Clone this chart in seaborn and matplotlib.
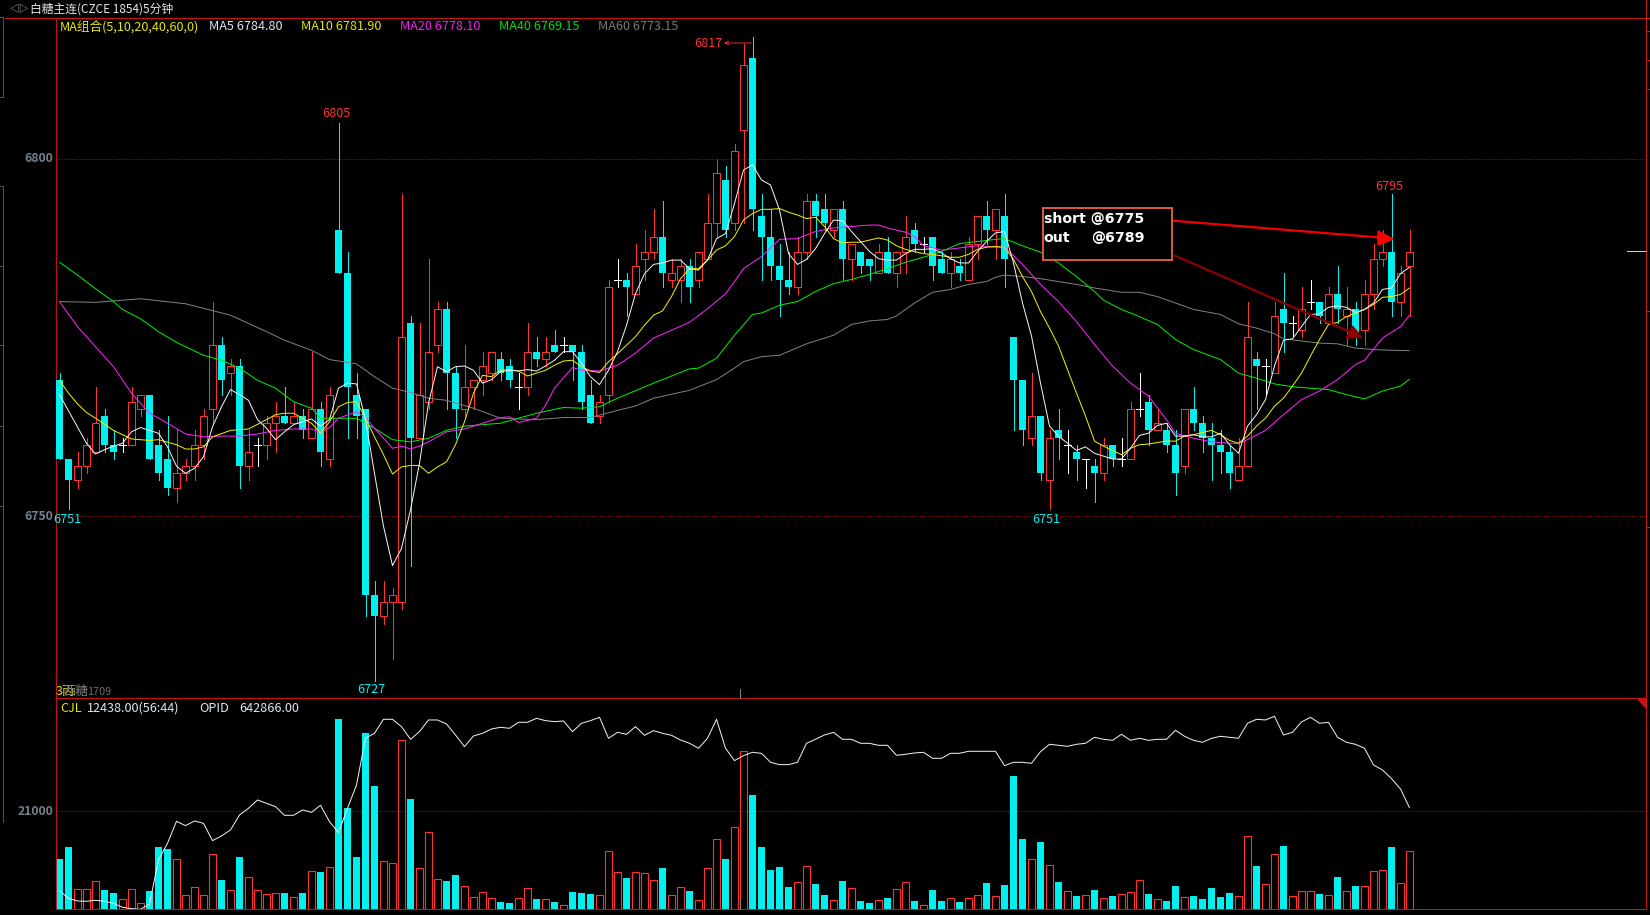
import matplotlib
matplotlib.use('Agg')
import matplotlib.pyplot as plt
from matplotlib.lines import Line2D
from matplotlib.patches import Polygon, Rectangle
import numpy as np
import pandas as pd
import seaborn as sns

# candles
opens = [6769, 6758, 6755, 6757, 6759, 6764, 6760, 6760, 6760, 6765, 6767, 6760, 6758, 6754, 6756, 6757,
         6760, 6765, 6774, 6770, 6771, 6757, 6760, 6760, 6763, 6764, 6763, 6764, 6761, 6765, 6758, 6790,
         6784, 6767, 6765, 6739, 6736, 6738, 6738, 6777, 6761, 6766, 6774, 6779, 6770, 6765, 6768, 6769,
         6770, 6772, 6771, 6768, 6768, 6773, 6772, 6774, 6774, 6774, 6773, 6767, 6764, 6767, 6783, 6783,
         6781, 6786, 6787, 6789, 6783, 6783, 6785, 6783, 6786, 6791, 6797, 6791, 6804, 6814, 6792, 6789,
         6785, 6783, 6782, 6787, 6794, 6793, 6790, 6793, 6786, 6787, 6786, 6784, 6787, 6784, 6787, 6790,
         6788, 6789, 6786, 6784, 6785, 6783, 6788, 6792, 6790, 6792, 6775, 6769, 6761, 6764, 6755, 6762,
         6760, 6759, 6758, 6757, 6756, 6760, 6758, 6758, 6765, 6766, 6762, 6762, 6760, 6757, 6765, 6763,
         6761, 6760, 6759, 6755, 6757, 6772, 6771, 6770, 6779, 6777, 6776, 6780, 6780, 6777, 6781, 6778,
         6779, 6776, 6781, 6786, 6787, 6780, 6785]
closes = [6758, 6755, 6757, 6760, 6763, 6760, 6759, 6760, 6766, 6767, 6758, 6756, 6754, 6756, 6757, 6760,
          6764, 6774, 6769, 6771, 6757, 6759, 6760, 6763, 6764, 6763, 6764, 6762, 6765, 6759, 6767, 6784,
          6768, 6764, 6739, 6736, 6738, 6739, 6775, 6761, 6767, 6773, 6779, 6770, 6765, 6768, 6769, 6771,
          6773, 6770, 6769, 6768, 6773, 6772, 6773, 6773, 6774, 6773, 6766, 6763, 6766, 6782, 6783, 6782,
          6785, 6787, 6789, 6784, 6784, 6785, 6782, 6787, 6791, 6798, 6790, 6801, 6813, 6793, 6789, 6785,
          6783, 6782, 6787, 6794, 6792, 6791, 6793, 6786, 6788, 6785, 6785, 6787, 6784, 6787, 6789, 6788,
          6788, 6785, 6784, 6786, 6784, 6788, 6792, 6790, 6793, 6786, 6769, 6762, 6764, 6756, 6761, 6761,
          6760, 6758, 6758, 6756, 6760, 6758, 6758, 6765, 6765, 6762, 6763, 6760, 6756, 6765, 6763, 6761,
          6760, 6759, 6756, 6757, 6775, 6771, 6771, 6778, 6777, 6777, 6779, 6780, 6778, 6781, 6779, 6779,
          6775, 6781, 6786, 6787, 6780, 6784, 6787]
highs = [6770, 6758, 6759, 6761, 6768, 6765, 6762, 6761, 6768, 6767, 6767, 6762, 6764, 6762, 6758, 6762,
         6765, 6780, 6775, 6772, 6772, 6762, 6761, 6764, 6766, 6768, 6766, 6765, 6773, 6766, 6768, 6805,
         6787, 6770, 6765, 6741, 6741, 6740, 6795, 6778, 6777, 6786, 6780, 6780, 6771, 6774, 6769, 6773,
         6773, 6773, 6772, 6770, 6777, 6775, 6775, 6776, 6775, 6774, 6774, 6769, 6767, 6783, 6786, 6784,
         6788, 6790, 6793, 6794, 6786, 6786, 6786, 6787, 6795, 6800, 6799, 6802, 6816, 6817, 6795, 6793,
         6788, 6787, 6789, 6795, 6795, 6795, 6793, 6794, 6788, 6787, 6786, 6788, 6789, 6787, 6792, 6791,
         6789, 6789, 6787, 6787, 6786, 6789, 6792, 6794, 6793, 6795, 6775, 6769, 6770, 6764, 6762, 6765,
         6762, 6760, 6758, 6758, 6761, 6760, 6761, 6766, 6770, 6767, 6765, 6763, 6762, 6765, 6768, 6764,
         6763, 6762, 6760, 6761, 6780, 6773, 6772, 6780, 6784, 6778, 6782, 6783, 6780, 6782, 6785, 6782,
         6780, 6783, 6788, 6790, 6795, 6785, 6790]
lows = [6758, 6751, 6754, 6756, 6759, 6759, 6758, 6759, 6760, 6764, 6758, 6755, 6753, 6752, 6755, 6755,
        6758, 6763, 6767, 6767, 6754, 6755, 6757, 6758, 6759, 6763, 6763, 6761, 6761, 6757, 6757, 6784,
        6761, 6761, 6736, 6727, 6735, 6730, 6737, 6743, 6761, 6765, 6773, 6765, 6761, 6764, 6765, 6767,
        6769, 6769, 6768, 6765, 6767, 6771, 6771, 6773, 6773, 6769, 6765, 6763, 6763, 6766, 6782, 6778,
        6781, 6783, 6786, 6782, 6782, 6780, 6780, 6782, 6786, 6789, 6789, 6790, 6791, 6790, 6783, 6783,
        6778, 6781, 6781, 6786, 6789, 6790, 6789, 6783, 6783, 6784, 6783, 6784, 6784, 6782, 6784, 6787,
        6787, 6783, 6784, 6782, 6783, 6783, 6786, 6788, 6786, 6782, 6762, 6760, 6760, 6755, 6751, 6758,
        6756, 6755, 6754, 6752, 6755, 6757, 6757, 6758, 6764, 6760, 6762, 6759, 6753, 6756, 6762, 6759,
        6755, 6756, 6754, 6755, 6757, 6765, 6767, 6770, 6773, 6775, 6775, 6779, 6777, 6777, 6777, 6774,
        6774, 6774, 6779, 6785, 6778, 6778, 6778]

volumes = [10786, 13357, 4286, 4286, 6072, 4143, 3500, 2143, 4286, 1286, 3929, 13357, 12929, 10714, 3000, 4714,
           3000, 11786, 6286, 4071, 11214, 6857, 4071, 3214, 3429, 3500, 2571, 3500, 8143, 8000, 9000, 40786,
           21714, 11214, 37786, 26429, 10286, 9857, 36214, 23643, 8786, 16500, 6429, 6072, 7357, 4929, 2571, 3643,
           2357, 1571, 1357, 2357, 4500, 2214, 2143, 1571, 857, 3714, 3500, 3286, 3000, 12429, 7929, 6714,
           7929, 7714, 6214, 8857, 3000, 4714, 3929, 1929, 8786, 15000, 10786, 17571, 33857, 24500, 13357, 8429,
           9071, 4786, 5786, 9214, 5429, 3071, 1929, 6072, 4500, 1786, 1357, 1929, 2429, 4286, 5786, 1786,
           857, 4143, 1786, 2357, 1571, 2357, 3000, 5643, 2786, 5214, 28571, 15071, 10714, 14429, 9429, 5857,
           3857, 2857, 3000, 4143, 2357, 2857, 3214, 3643, 6214, 3286, 2143, 1786, 5000, 2571, 2857, 2214,
           4571, 2643, 3500, 2786, 15643, 9286, 5357, 11786, 13571, 2786, 3857, 3857, 3286, 3000, 6929, 3857,
           5000, 4929, 8143, 8357, 13357, 5571, 12438]
open_interest = [618000, 615700, 614900, 614800, 615100, 614800, 614200, 613000, 612600, 612400, 614000, 627200,
                 632200, 638800, 637500, 638900, 638200, 633000, 634400, 636200, 640700, 642700, 645200, 644200,
                 643200, 640600, 640600, 642200, 641500, 643600, 638700, 635400, 642700, 649700, 663700, 665200,
                 669400, 669400, 667200, 663400, 665700, 669200, 669200, 668000, 664700, 661200, 664400, 665200,
                 666500, 667000, 666700, 668500, 668500, 669700, 669000, 668700, 668900, 665700, 668200, 669000,
                 670000, 663700, 665500, 664900, 667200, 664600, 666000, 665200, 664600, 663200, 662200, 660700,
                 663700, 669400, 660700, 657000, 658500, 659500, 659200, 656500, 655800, 655800, 656500, 662200,
                 663400, 664700, 665500, 663400, 663400, 662200, 662200, 661600, 661600, 658600, 658900, 659300,
                 659500, 657700, 657700, 659200, 659200, 659800, 659800, 659800, 659800, 655500, 656500, 656500,
                 656200, 659700, 661900, 661600, 661300, 661900, 662200, 664000, 663400, 663100, 664900, 663100,
                 663700, 663100, 663400, 663400, 666100, 664300, 663100, 662500, 663700, 664300, 664000, 663700,
                 668200, 669400, 669200, 670300, 664700, 665500, 668600, 670000, 668200, 668500, 664000, 662500,
                 661900, 660700, 655700, 654200, 651600, 648500, 642866]

# moving averages, bar index and value at the vertices
ma5_idx = [0, 3, 4, 5, 6, 7, 8, 9, 10, 11, 12, 13, 14, 15, 16, 17, 18, 19, 20, 21, 22, 23, 24, 25, 26, 27, 28, 29, 30,
           31, 32, 33, 34, 35, 36, 37, 38, 39, 40, 41, 42, 43, 44, 45, 46, 47, 48, 49, 50, 51, 52, 53, 54, 55, 56,
           57, 58, 59, 60, 61, 62, 63, 64, 65, 66, 67, 68, 69, 70, 71, 72, 73, 74, 75, 76, 77, 78, 79, 80, 81, 82,
           83, 84, 85, 86, 87, 88, 89, 90, 91, 92, 93, 94, 95, 96, 97, 98, 99, 100, 101, 102, 103, 104, 105, 106,
           107, 108, 109, 110, 111, 112, 113, 114, 115, 116, 117, 118, 119, 120, 121, 122, 123, 124, 125, 126, 127,
           128, 129, 130, 131, 132, 133, 134, 135, 136, 137, 138, 139, 140, 141, 142, 143, 144, 145, 146, 147, 148,
           149, 150]
ma5 = [6767, 6760.2, 6758.7, 6759.3, 6759.8, 6760.2, 6761.8, 6762.4, 6762, 6761.6, 6759.7, 6757, 6756, 6756.7, 6758.3,
       6762.5, 6765.3, 6767.7, 6767, 6766.2, 6763.5, 6762.3, 6760.7, 6761.8, 6762.8, 6763.2, 6763.6, 6762.6, 6763.5,
       6767.9, 6768.6, 6768.5, 6763.5, 6756, 6748.6, 6743.1, 6745.5, 6750.9, 6757.4, 6765.8, 6770.9, 6770.2, 6770.9,
       6771, 6770.4, 6768.6, 6769.1, 6770.2, 6770.4, 6770.3, 6770.5, 6770.3, 6771, 6771.8, 6773, 6773, 6771.4, 6769.5,
       6768.4, 6770.4, 6773, 6776.7, 6781.1, 6783.9, 6785.2, 6785.4, 6785.8, 6785.8, 6784.6, 6784.4, 6785.8, 6788.8,
       6789.5, 6793.7, 6798.4, 6799.1, 6797, 6796.3, 6792.8, 6786.7, 6785.2, 6785.9, 6787.4, 6789.5, 6791.4, 6791.3,
       6789.8, 6788.4, 6787, 6786, 6785.8, 6785.8, 6786.7, 6787.3, 6787.3, 6787.4, 6786.8, 6786, 6785.4, 6785.4, 6787,
       6788.4, 6789.6, 6789.8, 6785.4, 6779.8, 6775.2, 6768.6, 6762.6, 6761.2, 6760.2, 6759.2, 6759.7, 6758.8, 6758.4,
       6758, 6758, 6759.5, 6761.3, 6761.6, 6762.7, 6763, 6761.2, 6761.2, 6761.4, 6761.1, 6761.1, 6761.6, 6760, 6758.8,
       6762.6, 6764.2, 6766.3, 6771, 6774.6, 6774.8, 6776.5, 6778.2, 6778.3, 6779.2, 6779.4, 6779.2, 6778.5, 6778.9,
       6779.8, 6781.7, 6781.9, 6783.9, 6784.8]

ma10_idx = [0, 1, 2, 3, 4, 6, 8, 10, 11, 13, 14, 15, 16, 17, 19, 21, 23, 24, 25, 26, 28, 29, 30, 31, 32, 33, 34, 35, 36,
            37, 38, 39, 40, 41, 42, 43, 44, 45, 46, 47, 48, 49, 50, 51, 52, 53, 54, 55, 56, 57, 58, 59, 60, 61, 62, 63,
            64, 65, 66, 67, 68, 69, 70, 71, 72, 73, 74, 75, 76, 77, 78, 79, 80, 81, 82, 83, 84, 85, 86, 87, 88, 89, 90,
            91, 92, 93, 94, 95, 96, 97, 98, 99, 100, 101, 102, 103, 104, 105, 106, 107, 108, 109, 110, 111, 112, 113,
            114, 115, 116, 117, 118, 119, 120, 121, 122, 123, 124, 125, 126, 127, 128, 129, 130, 131, 132, 133, 134,
            135, 136, 137, 138, 139, 140, 141, 142, 143, 144, 145, 146, 147, 148, 149, 150]
ma10 = [6769, 6767.2, 6765.7, 6764.5, 6763.7, 6762, 6760.8, 6760.6, 6760.7, 6760, 6759.4, 6759.4, 6759.7, 6761.1, 6762,
        6762.2, 6763.5, 6764.2, 6764.4, 6764.4, 6763, 6761.6, 6763.2, 6765.3, 6765.9, 6766, 6763.7, 6761.1, 6758.6,
        6755.9, 6756.9, 6757.1, 6757.1, 6756, 6756.9, 6757.6, 6760, 6763.2, 6767.2, 6769.7, 6769.5, 6770.4, 6770.5,
        6770.3, 6769.6, 6770, 6770.4, 6771.1, 6771.7, 6771.8, 6770.9, 6770.3, 6770.1, 6771.6, 6772.7, 6773.9, 6775.1,
        6776.7, 6778.1, 6778.7, 6780.7, 6783.2, 6784.6, 6784.6, 6785.8, 6787.2, 6787.8, 6789.1, 6791.4, 6792.3, 6792.9,
        6792.9, 6793, 6792.5, 6792.1, 6791.6, 6791.8, 6790.5, 6788.8, 6788.2, 6788.3, 6788.3, 6788.6, 6788.9, 6788.6,
        6787.8, 6787.3, 6787, 6786.7, 6786.6, 6786.4, 6786.2, 6786.2, 6786.6, 6787.3, 6787.6, 6787.7, 6787.6, 6785.9,
        6783.5, 6781.4, 6778.6, 6776.3, 6773.8, 6770.5, 6767.2, 6764, 6760.5, 6759.8, 6759.2, 6758.6, 6759.5, 6760,
        6760.1, 6760.3, 6760.5, 6760.5, 6761.2, 6761.4, 6761.7, 6762, 6761.4, 6760.6, 6760.2, 6761.2, 6762.6, 6763.7,
        6765.4, 6766.5, 6768.2, 6770, 6772.4, 6774.7, 6776.8, 6777.1, 6777.9, 6778.4, 6778.9, 6779.6, 6780.6, 6780.7,
        6781, 6781.9]

ma20_idx = [0, 2, 4, 6, 8, 10, 12, 14, 16, 18, 20, 22, 24, 26, 28, 29, 30, 31, 33, 34, 35, 37, 38, 39, 40, 41, 43, 45,
            47, 49, 50, 51, 53, 54, 55, 57, 58, 60, 62, 64, 66, 68, 70, 72, 74, 75, 76, 78, 80, 82, 84, 86, 88, 90, 91,
            92, 94, 95, 96, 98, 100, 102, 104, 105, 107, 109, 111, 113, 115, 117, 119, 121, 123, 124, 126, 128, 130,
            131, 132, 134, 136, 138, 140, 142, 144, 145, 147, 149, 150]
ma20 = [6780, 6776.5, 6773.7, 6770.9, 6767.2, 6764.4, 6763, 6761.5, 6761.1, 6761.2, 6761.2, 6761.5, 6762, 6762.2, 6762.2,
        6761.7, 6762.4, 6763.7, 6764.6, 6763.8, 6762.3, 6759.5, 6759.8, 6759.4, 6759.8, 6760.4, 6761.8, 6762.2, 6763,
        6763.8, 6763.9, 6763.1, 6763.7, 6765.5, 6767.9, 6770.8, 6770.4, 6770.3, 6771.1, 6772.8, 6774.9, 6776, 6777.1,
        6779, 6781.1, 6782.8, 6784.6, 6786.3, 6788.7, 6788.8, 6789.8, 6790.3, 6790.5, 6790.7, 6790.7, 6790.3, 6789.7,
        6789.1, 6787.8, 6787.2, 6787.5, 6787.8, 6787.6, 6787.6, 6785.2, 6782.4, 6780, 6777.2, 6774, 6771, 6768.6,
        6766.8, 6763.5, 6761.6, 6760.9, 6760.4, 6760.2, 6760.2, 6760.7, 6762, 6764.2, 6766.3, 6767.5, 6769.1, 6771.2,
        6771.8, 6774.9, 6776.5, 6778.1]

ma40_idx = [0, 2, 4, 6, 7, 9, 11, 13, 16, 18, 20, 22, 24, 26, 28, 29, 31, 33, 35, 37, 39, 41, 43, 45, 49, 53, 56, 58,
            60, 62, 66, 70, 71, 73, 75, 77, 78, 80, 82, 84, 86, 88, 90, 92, 94, 96, 98, 100, 102, 104, 105, 107, 109,
            111, 113, 115, 116, 118, 120, 122, 124, 126, 129, 131, 133, 135, 137, 139, 141, 143, 145, 147, 149, 150]
ma40 = [6785.5, 6783.7, 6781.8, 6780, 6778.9, 6777.6, 6775.8, 6774.3, 6772.5, 6771.8, 6770.7, 6769, 6767.9, 6766, 6765.1,
        6763.7, 6763.7, 6763.7, 6762.3, 6760.7, 6760.4, 6760.9, 6762, 6762.6, 6763, 6764.4, 6765.2, 6765.1, 6765.3,
        6766.5, 6768.6, 6770.6, 6770.7, 6772.1, 6775.3, 6778.2, 6778.4, 6779.5, 6780, 6781.4, 6782.5, 6783.1, 6783.8,
        6784.6, 6785.5, 6786.2, 6787, 6788.1, 6788.4, 6788.7, 6788.8, 6787.8, 6786.9, 6785.4, 6783.5, 6781.4, 6780.2,
        6778.9, 6777.9, 6776.8, 6774.7, 6773.3, 6771.9, 6770, 6769.3, 6768.5, 6768.1, 6767.9, 6767.7, 6767, 6766.4,
        6767.5, 6768.2, 6769.15]

ma60_idx = [0, 4, 9, 14, 19, 23, 25, 28, 30, 33, 35, 37, 39, 41, 43, 46, 49, 53, 56, 59, 62, 64, 66, 70, 73, 75, 76, 78,
            80, 83, 86, 88, 90, 92, 93, 95, 97, 99, 101, 103, 104, 105, 107, 109, 111, 113, 115, 118, 120, 122, 124,
            126, 129, 131, 133, 135, 136, 138, 140, 142, 144, 146, 148, 150]
ma60 = [6780, 6779.9, 6780.4, 6779.7, 6778.1, 6775.8, 6774.6, 6773.2, 6771.9, 6771.3, 6769.5, 6767.9, 6767.3, 6766.5,
        6766.2, 6765.1, 6763.7, 6763.5, 6763.8, 6763.8, 6764.8, 6765.4, 6766.5, 6767.6, 6769.1, 6770.7, 6771.6, 6772.3,
        6772.5, 6774.1, 6775.3, 6776.8, 6777.3, 6777.5, 6778, 6779.8, 6781.3, 6781.7, 6782.4, 6782.8, 6783.4, 6783.7,
        6783.5, 6783.2, 6782.8, 6782.4, 6781.9, 6781.3, 6781.3, 6780.7, 6779.8, 6778.9, 6778.2, 6776.9, 6776.3, 6775.5,
        6774.8, 6774.5, 6774.2, 6774.1, 6773.5, 6773.3, 6773.2, 6773.15]

W, H = 1650, 915
RED = '#ff3232'
CYAN = '#00f0f0'
FRAME = '#c41414'
GRID = '#a01010'
GRAY_TXT = '#74818c'
THIN = 0.68

sns.set_style('dark', {'axes.facecolor': 'black', 'figure.facecolor': 'black', 'axes.edgecolor': FRAME,
                       'axes.grid': False})
plt.rcParams['font.family'] = ['Noto Sans CJK SC', 'DejaVu Sans']

fig = plt.figure(figsize=(W / 100, H / 100), dpi=100, facecolor='black')
ax = fig.add_axes([55.5 / W, 1 - 698.3 / H, (1646 - 55.5) / W, 680 / H])
ax_vol = fig.add_axes([55.5 / W, 1 - 909.3 / H, (1646 - 55.5) / W, 211 / H])

df = pd.DataFrame({'idx': np.arange(len(opens)), 'open': opens, 'close': closes,
                   'high': highs, 'low': lows, 'vol': volumes, 'opi': open_interest})
up = df[df.close > df.open]
down = df[df.close < df.open]
flat = df[df.close == df.open]

# candles
ax.vlines(up.idx, up.low, up.high, color=RED, lw=THIN, zorder=2, antialiased=False)
ax.vlines(down.idx, down.low, down.high, color=CYAN, lw=THIN, zorder=2, antialiased=False)
ax.vlines(flat.idx, flat.low, flat.high, color='white', lw=THIN, zorder=2, antialiased=False)
ax.hlines(flat.close, flat.idx - 0.38, flat.idx + 0.38, color='white', lw=THIN, zorder=2, antialiased=False)
ax.bar(up.idx, up.close - up.open, bottom=up.open, width=0.68, facecolor='black', edgecolor=RED,
       linewidth=0.72, zorder=3)
ax.bar(down.idx, down.open - down.close, bottom=down.close, width=0.78, color=CYAN, linewidth=0, zorder=3)

# moving averages
for xs, ys, c in [(ma60_idx, ma60, '#808080'), (ma40_idx, ma40, '#00ee00'), (ma20_idx, ma20, '#ff22ff'),
                  (ma10_idx, ma10, '#f0f000'), (ma5_idx, ma5, '#f4f4f4')]:
    sns.lineplot(x=xs, y=ys, color=c, linewidth=0.72, ax=ax, zorder=4, errorbar=None, estimator=None)

ax.set_xlim((55.5 - 59.5) / 9, (1646 - 59.5) / 9)
ax.set_ylim(6800 - 539.8 / 7.155, 6800 + 140.2 / 7.155)
ax.hlines([6800, 6750], *ax.get_xlim(), color=GRID, lw=0.72, linestyles=(0, (1, 1.6)), zorder=1)
ax.set_xticks([])
ax.set_yticks([])
ax.set_xlabel('')

# volume bars, red hollow and cyan filled
vol_up = df[df.close >= df.open]
sns.barplot(x=vol_up.idx.to_numpy(), y=vol_up.vol.to_numpy(), native_scale=True, fill=False, color=RED,
            width=0.68, linewidth=0.8, ax=ax_vol, zorder=3)
sns.barplot(x=down.idx.to_numpy(), y=down.vol.to_numpy(), native_scale=True, color=CYAN, saturation=1,
            width=0.78, linewidth=0, ax=ax_vol, zorder=3)
ax_vol.set_xlim(ax.get_xlim())
ax_vol.set_ylim(0, 211 / 98 * 21000)
ax_vol.hlines(21000, *ax.get_xlim(), color=GRID, lw=0.72, linestyles=(0, (1, 1.6)), zorder=1)
ax_vol.set_xticks([])
ax_vol.set_yticks([])
ax_vol.set_xlabel('')
ax_vol.set_ylabel('')

ax_opi = ax_vol.twinx()
sns.lineplot(x=df.idx.to_numpy(), y=df.opi.to_numpy(), color='#f0f0f0', linewidth=0.72, ax=ax_opi, zorder=4,
             errorbar=None, estimator=None)
ax_opi.set_ylim(612400, 675700)
ax_opi.set_yticks([])
ax_opi.set_ylabel('')
ax_opi.patch.set_visible(False)

for a in (ax, ax_vol, ax_opi):
    for s in a.spines.values():
        s.set_color(FRAME)
        s.set_linewidth(THIN)


def ftext(px, py, s, color, size=9.1, ha='left', **kw):
    fig.text(px / W, 1 - (py + 1.8) / H, s, color=color, fontsize=size, ha=ha, va='center', zorder=10, **kw)


def fline(xs, ys, color, lw=THIN, aa=False):
    fig.add_artist(Line2D([x / W for x in xs], [1 - y / H for y in ys], color=color, lw=lw, antialiased=aa))


# header and legends
fline([5, W], [18.3, 18.3], FRAME)
fline([1646, 1646], [0, 909], FRAME)
ftext(9, 7.5, '◁▷', '#c8c8c8', 7)
ftext(30, 7.5, '白糖主连(CZCE 1854)5分钟', '#e8e8e8', 8.5)
ftext(60, 25, 'MA组合(5,10,20,40,60,0)', '#e6e600')
ftext(209, 25, 'MA5 6784.80', '#e0e8f0')
ftext(301, 25, 'MA10 6781.90', '#e6e600')
ftext(400, 25, 'MA20 6778.10', '#f020f0')
ftext(499, 25, 'MA40 6769.15', '#00e000')
ftext(598, 25, 'MA60 6773.15', '#787878')
ftext(60.7, 706.5, 'CJL', '#e6e600')
ftext(87, 706.5, '12438.00(56:44)', '#e0e8f0')
ftext(199, 706.5, 'OPID', '#e0e8f0')
ftext(239, 706.5, '642866.00', '#e0e8f0')

# axis labels
ftext(53.5, 157, '6800', GRAY_TXT, 8.8, ha='right', fontweight='bold')
ftext(53.5, 515, '6750', GRAY_TXT, 8.8, ha='right', fontweight='bold')
ftext(53.5, 810, '21000', GRAY_TXT, 8.8, ha='right', fontweight='bold')

# high and low labels
ftext(336.5, 111.5, '6805', RED, ha='center')
ftext(1389.5, 184.5, '6795', RED, ha='center')
ftext(708, 42, '6817', RED, ha='center')
ftext(67, 517.5, '6751', CYAN, ha='center')
ftext(1046.5, 517.5, '6751', CYAN, ha='center')
ftext(371.5, 687.5, '6727', CYAN, ha='center')
ax.annotate('', xy=(724 / W, 1 - 43 / H), xycoords='figure fraction', xytext=(751 / W, 1 - 43 / H),
            textcoords='figure fraction', zorder=9,
            arrowprops=dict(arrowstyle='->', color=RED, lw=0.72, ls=(0, (2, 1)), mutation_scale=6,
                            shrinkA=0, shrinkB=0))
ftext(56, 689.5, '3丙', '#e6e600', 9)
ftext(63, 690, '西糖', '#808080', 9)
ftext(87, 690.5, '1709', '#6c6c6c', 7.8)

# trade note with its two arrows
fig.add_artist(Rectangle((1042.7 / W, 1 - 260 / H), 129.6 / W, 52.3 / H, transform=fig.transFigure,
                         facecolor='black', edgecolor='#dc5a3c', lw=1.4, zorder=8))
ftext(1043.5, 217.5, 'short @6775', 'white', 10.2, fontfamily='DejaVu Sans', fontweight='bold')
ftext(1043.5, 236.5, 'out', 'white', 10.2, fontfamily='DejaVu Sans', fontweight='bold')
ftext(1091, 236.5, '@6789', 'white', 10.2, fontfamily='DejaVu Sans', fontweight='bold')
fline([1173, 1380], [220.7, 237.5], '#f00000', 1.6, True)
fig.add_artist(Polygon([(1378 / W, 1 - 231 / H), (1393 / W, 1 - 239 / H), (1378 / W, 1 - 245 / H)],
                       transform=fig.transFigure, color='#ff0000', zorder=9))
fline([1175, 1350], [255.7, 332], '#8c0000', 1.6, True)
fig.add_artist(Polygon([(1346 / W, 1 - 338 / H), (1362 / W, 1 - 337.5 / H), (1352.5 / W, 1 - 326 / H)],
                       transform=fig.transFigure, color='#8c0000', zorder=9))

# frame bits round the panels
fline([1627, 1646], [251, 251], '#e6e600')
fig.add_artist(Polygon([(1637 / W, 1 - 698.3 / H), (1646 / W, 1 - 698.3 / H), (1646 / W, 1 - 708 / H)],
                       transform=fig.transFigure, color='#c41414', zorder=9))
fline([739.5, 739.5], [689, 698], '#808080')
fline([739.5, 739.5], [900, 909], '#808080')
fline([3, 3], [17, 97], '#505050')
fline([0, 3], [17, 17], '#505050')
fline([0, 3], [97, 97], '#505050')
fline([3, 3], [186, 822], '#505050')
fline([0, 3], [186, 186], '#505050')
for y in [266, 345, 426, 506]:
    fline([0, 3], [y, y], '#505050')
for y in [31, 60, 89, 311, 527]:
    fline([1646, 1650], [y, y], FRAME)

fig.savefig('out.png', dpi=100, facecolor='black')
